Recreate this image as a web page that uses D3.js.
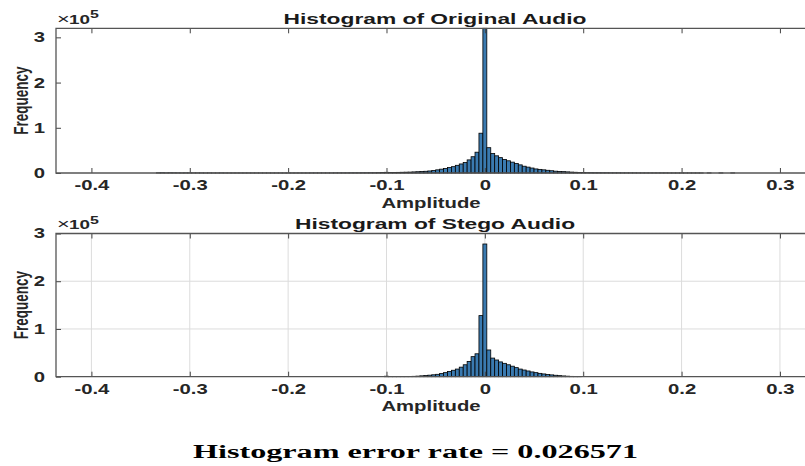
<!DOCTYPE html>
<html>
<head>
<meta charset="utf-8">
<script src="https://cdn.jsdelivr.net/npm/d3@7"></script>
<style>
body { margin: 0; background: #fff; }
svg { display: block; }
</style>
</head>
<body>
<div id="chart"></div>
<script>
const width = 805
const height = 466

// Histogram data (counts in units of 1e5), uniform bins
const binWidth = 0.004
const xTicks = [-0.4, -0.3, -0.2, -0.1, 0, 0.1, 0.2, 0.3]
const yTicks = [0, 1, 2, 3]

// Original audio: first bin edge and counts
const origStart = -0.334
const origCounts = [
    0.004, 0.006, 0.003, 0.005, 0.004, 0.003, 0.002, 0.003, 0.002, 0.002,
    0.002, 0.002, 0.001, 0.002, 0.001, 0.001, 0.002, 0.001, 0.001, 0.001,
    0.001, 0.001, 0.001, 0.001, 0.001, 0.001, 0.001, 0.001, 0.001, 0.001,
    0.001, 0.001, 0.001, 0.001, 0.001, 0.001, 0.001, 0.001, 0.001, 0.002,
    0.002, 0.002, 0.002, 0.002, 0.002, 0.003, 0.003, 0.003, 0.003, 0.004,
    0.004, 0.004, 0.005, 0.005, 0.006, 0.006, 0.008, 0.010,
    0.015, 0.012, 0.013, 0.014, 0.016, 0.018, 0.020, 0.024, 0.028, 0.032,
    0.038, 0.045, 0.055, 0.070, 0.085, 0.100, 0.120, 0.140, 0.170, 0.200,
    0.230, 0.290, 0.360, 0.460, 0.880,
    3.200,
    0.560, 0.430, 0.380, 0.340, 0.300, 0.270, 0.240, 0.210, 0.180, 0.150,
    0.130, 0.110, 0.090, 0.080, 0.070, 0.060, 0.050, 0.040, 0.035, 0.030,
    0.025, 0.020, 0.016, 0.012, 0.010,
    0.008, 0.007, 0.006, 0.006, 0.005, 0.005, 0.004, 0.004, 0.004, 0.003,
    0.003, 0.003, 0.003, 0.002, 0.002, 0.002, 0.002, 0.002, 0.002, 0.002,
    0.002, 0.001, 0.001, 0.001, 0.001, 0.001, 0.001, 0.001, 0.001, 0.001,
    0, 0.002, 0, 0, 0.002, 0, 0, 0.002
]

// Stego audio
const stegoStart = -0.102
const stegoCounts = [
    0.010, 0.003, 0.003, 0.004, 0.004, 0.005, 0.006, 0.008,
    0.012, 0.018, 0.025, 0.032, 0.040, 0.050, 0.065, 0.085, 0.110, 0.135,
    0.160, 0.200, 0.250, 0.320, 0.420, 0.480, 1.280,
    2.780,
    0.560, 0.390, 0.350, 0.310, 0.280, 0.250, 0.220, 0.190, 0.160, 0.140,
    0.120, 0.100, 0.085, 0.070, 0.058, 0.047, 0.038, 0.030, 0.022, 0.016,
    0.011, 0.007, 0.004, 0.002
]

const titles = ["Histogram of Original Audio", "Histogram of Stego Audio"]
const xLabel = "Amplitude"
const yLabel = "Frequency"
const footer = "Histogram error rate = 0.026571"

const stretch = 1.45
const textColor = "#262626"

const svg = d3.select("div#chart").append("svg").attr("width", width).attr("height", height)
const x = d3.scaleLinear().domain([-0.436, 0.3265]).range([56, 806])

function stretchedText(g, str, px, py, size, anchor, extra) {
    return g.append("text")
        .attr("transform", `translate(${px},${py}) scale(${stretch},1)${extra || ""}`)
        .attr("text-anchor", anchor)
        .attr("font-family", "Liberation Sans, Arial, sans-serif")
        .attr("font-weight", "bold")
        .attr("font-size", size)
        .attr("fill", textColor)
        .text(str)
}

function drawPanel(cfg) {
    const y = d3.scaleLinear().domain([0, cfg.yMax]).range([cfg.bottom, cfg.top])
    const g = svg.append("g")

    // Grid
    if (cfg.grid) {
        g.append("g").selectAll("line").data(xTicks).join("line")
            .attr("x1", d => x(d)).attr("x2", d => x(d))
            .attr("y1", cfg.top).attr("y2", cfg.bottom)
            .attr("stroke", "#dcdcdc").attr("stroke-width", 1)
        g.append("g").selectAll("line").data(yTicks.filter(d => d > 0 && d < cfg.yMax)).join("line")
            .attr("x1", 56).attr("x2", 806)
            .attr("y1", d => y(d)).attr("y2", d => y(d))
            .attr("stroke", "#dcdcdc").attr("stroke-width", 1)
    }

    // Bars
    const bins = cfg.counts.map((c, i) => ({x0: cfg.start + i * binWidth, c: c})).filter(d => d.c > 0)
    g.append("g").selectAll("rect").data(bins).join("rect")
        .attr("x", d => x(d.x0))
        .attr("width", x(binWidth) - x(0))
        .attr("y", d => y(d.c))
        .attr("height", d => y(0) - y(d.c))
        .attr("fill", "#3a7ab0")
        .attr("stroke", "#000")
        .attr("stroke-width", 0.8)

    // Axes
    const xAxisGroup = g.append("g").attr("transform", `translate(0,${cfg.bottom})`)
        .call(d3.axisBottom(x).tickValues(xTicks).tickSize(-5).tickPadding(7).tickFormat(d => String(d)))
    const xTopGroup = g.append("g").attr("transform", `translate(0,${cfg.top})`)
        .call(d3.axisTop(x).tickValues(xTicks).tickSize(-5).tickFormat(""))
    const yAxisGroup = g.append("g").attr("transform", "translate(56,0)")
        .call(d3.axisLeft(y).tickValues(yTicks).tickSize(-5).tickPadding(7.5).tickFormat(d3.format("d")))

    for (const ax of [xAxisGroup, xTopGroup, yAxisGroup]) {
        ax.select(".domain").remove()
        ax.selectAll(".tick line").attr("stroke", "#444").attr("stroke-width", 1)
        ax.selectAll(".tick text")
            .attr("transform", `scale(${stretch},1)`)
            .attr("font-family", "Liberation Sans, Arial, sans-serif")
            .attr("font-weight", "bold")
            .attr("font-size", 14)
            .attr("fill", textColor)
    }

    // Box
    g.append("path")
        .attr("d", `M806,${cfg.top}H56V${cfg.bottom}H806`)
        .attr("fill", "none").attr("stroke", "#555").attr("stroke-width", 1.3)

    // Labels
    stretchedText(g, cfg.title, 435, cfg.top - 4.5, 15, "middle").attr("fill", "#1a1a1a").attr("transform",
        `translate(435,${cfg.top - 4.5}) scale(1.52,1)`)
    stretchedText(g, xLabel, 431, cfg.bottom + 34.5, 14, "middle")
    stretchedText(g, yLabel, 28, (cfg.top + cfg.bottom) / 2, 13.5, "middle", " rotate(-90)")

    stretchedText(g, "\u00d7", 57, cfg.top - 4.5, 15, "start").attr("font-weight", "normal")
    stretchedText(g, "10", 69, cfg.top - 4.5, 13, "start")
    stretchedText(g, "5", 90, cfg.top - 10, 11, "start")
}

drawPanel({title: titles[0], counts: origCounts, start: origStart, top: 28.3, bottom: 173, yMax: 3.2, grid: false})
drawPanel({title: titles[1], counts: stegoCounts, start: stegoStart, top: 233.5, bottom: 376.7, yMax: 3, grid: true})

svg.append("text")
    .attr("x", 193).attr("y", 458)
    .attr("textLength", 445).attr("lengthAdjust", "spacingAndGlyphs")
    .attr("font-family", "Liberation Serif, Times New Roman, serif")
    .attr("font-weight", "bold")
    .attr("font-size", 18)
    .attr("fill", "#000")
    .text(footer)
</script>
</body>
</html>
